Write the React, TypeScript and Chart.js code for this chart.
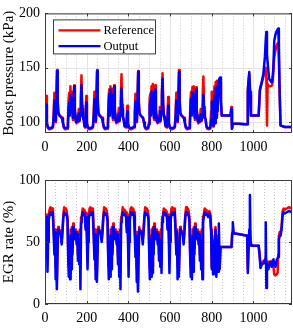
import React, { useEffect, useRef } from "react";
import { Chart, registerables } from "chart.js";

Chart.register(...registerables);

// ---------- Data ----------
const boostTime = [
  0, 3, 6, 9, 13, 18, 25, 32, 38, 42, 45, 48, 52, 55, 58, 61, 64, 70, 76, 82, 86, 90, 95, 100, 106, 110, 113, 116, 119, 122, 125, 128, 131, 134, 137, 140, 143, 147, 151, 155, 158, 162, 165, 169, 172, 175, 178, 182, 186, 189,
  192, 195, 198, 201, 205, 210, 217, 224, 230, 234, 237, 240, 244, 247, 250, 253, 256, 262, 268, 274, 278, 282, 287, 292, 298, 302, 305, 308, 311, 314, 317, 320, 323, 326, 329, 332, 335, 339, 343, 347, 350, 354, 357, 361, 364, 367, 370, 374, 378, 381,
  389, 392, 395, 398, 402, 407, 414, 421, 427, 431, 434, 437, 441, 444, 447, 450, 453, 459, 465, 471, 475, 479, 484, 489, 495, 499, 502, 505, 508, 511, 514, 517, 520, 523, 526, 529, 532, 536, 540, 544, 547, 551, 554, 558, 561, 564, 567, 571, 575, 578,
  585, 588, 591, 594, 598, 603, 610, 617, 623, 627, 630, 633, 637, 640, 643, 646, 649, 655, 661, 667, 671, 675, 680, 685, 691, 695, 698, 701, 704, 707, 710, 713, 716, 719, 722, 725, 728, 732, 736, 740, 743, 747, 750, 754, 757, 760, 763, 767, 771, 774,
  778, 783, 788, 793, 797, 800, 803, 806, 810, 813, 816, 819, 822, 825, 828, 832, 836, 840, 844, 848, 870, 890, 894, 897, 901, 930, 960, 970, 973, 977, 980, 984, 988, 1000, 1025, 1031, 1040, 1048, 1055, 1059, 1062, 1065, 1068, 1075, 1085, 1090, 1095, 1100, 1105, 1110, 1115, 1119, 1122, 1125, 1130, 1150, 1185,
];
const boostRef = [
  97, 108, 124, 100, 95, 93.5, 93.5, 94, 95, 110, 127, 112, 100, 125, 148, 120, 108, 106, 105, 104, 99, 95, 93.5, 93.5, 94, 100, 120, 127, 108, 133, 118, 128, 110, 102, 120, 134, 112, 101, 99, 106, 100, 112, 101, 110, 125, 143, 115, 105, 102, 96,
  95, 108, 124, 100, 95, 93.5, 93.5, 94, 95, 110, 128, 112, 100, 126, 148, 121, 108, 106, 105, 104, 99, 95, 93.5, 93.5, 94, 100, 121, 130, 108, 133, 118, 131, 110, 102, 121, 134, 112, 101, 99, 106, 100, 113, 101, 110, 126, 144, 116, 105, 102, 96,
  95, 104, 115, 99, 95, 93.5, 93.5, 94, 95, 110, 126, 112, 100, 124, 147, 120, 108, 106, 105, 104, 99, 95, 93.5, 93.5, 94, 100, 122, 126, 108, 133, 118, 135, 110, 102, 121, 134, 112, 101, 99, 106, 100, 114, 101, 111, 128, 145, 117, 105, 102, 96,
  95, 107, 123, 100, 95, 93.5, 93.5, 94, 95, 110, 127, 112, 100, 126, 148, 121, 108, 106, 105, 104, 99, 95, 93.5, 93.5, 94, 100, 121, 128, 108, 132, 118, 133, 110, 102, 120, 132, 112, 101, 99, 106, 100, 112, 101, 110, 124, 142, 114, 105, 102, 96,
  94, 93.5, 93.5, 94, 110, 128, 105, 96, 120, 133, 100, 137, 106, 138, 112, 130, 138, 136, 118, 106, 106, 106, 114, 94, 98.5, 98.5, 98, 98, 130, 140, 144, 125, 106, 106, 106, 129, 136, 142, 150, 150, 140, 97, 135, 133, 133, 134, 145, 160, 165, 170, 172, 173, 160, 130, 97, 95.5, 95.5,
];
const boostOut = [
  98, 104, 116, 99, 96, 94.5, 94.5, 95, 96, 106, 120, 110, 101, 120, 147, 118, 109, 106, 105, 103, 100, 96, 94.5, 94.5, 95, 98, 112, 118, 106, 125, 115, 122, 110, 104, 118, 133, 112, 102, 100, 104, 101, 108, 101, 106, 118, 134, 112, 105, 102, 97,
  96, 105, 118, 99, 96, 94.5, 94.5, 95, 96, 106, 121, 110, 101, 121, 147, 119, 109, 106, 105, 103, 100, 96, 94.5, 94.5, 95, 98, 113, 126, 106, 130, 115, 125, 110, 104, 119, 133, 112, 102, 100, 104, 101, 108, 101, 106, 118, 131, 112, 105, 102, 97,
  96, 102, 110, 99, 96, 94.5, 94.5, 95, 96, 106, 119, 110, 101, 120, 146, 118, 109, 106, 105, 103, 100, 96, 94.5, 94.5, 95, 98, 114, 120, 106, 128, 115, 127, 110, 104, 119, 130, 112, 102, 100, 104, 101, 110, 101, 108, 124, 140, 114, 105, 102, 97,
  96, 104, 115, 99, 96, 94.5, 94.5, 95, 96, 106, 120, 110, 101, 121, 146, 119, 109, 106, 105, 103, 100, 96, 94.5, 94.5, 95, 98, 113, 122, 106, 127, 115, 125, 110, 104, 118, 130, 112, 102, 100, 104, 101, 107, 101, 104, 115, 125, 110, 105, 102, 97,
  95, 94.5, 94.5, 95, 102, 119, 101, 97, 111, 124, 99, 131, 104, 133, 110, 136, 140, 141, 120, 106, 106, 106, 112, 94, 98.5, 98.5, 98, 98, 128, 138, 146, 128, 106, 106, 106, 130, 137, 145, 160, 175, 183, 162, 155, 140, 137, 137, 148, 175, 180, 183, 185, 186, 170, 135, 97, 95.5, 95.5,
];

const egrTime = [
  0, 3, 6, 9, 12, 15, 18, 22, 26, 30, 34, 38, 42, 45, 48, 51, 54, 57, 60, 63, 67, 72, 76, 80, 84, 88, 92, 96, 100, 104, 108, 111, 114, 117, 120, 123, 126, 129, 132, 135, 138, 141, 145, 148, 152, 155, 158, 161, 164, 167, 170, 173, 177, 181, 185, 189,
  192, 195, 198, 201, 204, 207, 210, 214, 218, 222, 226, 230, 234, 237, 240, 243, 246, 249, 252, 255, 259, 264, 268, 272, 276, 280, 284, 288, 292, 296, 300, 303, 306, 309, 312, 315, 318, 321, 324, 327, 330, 333, 337, 340, 344, 347, 350, 353, 356, 359, 362, 365, 369, 373, 377, 381,
  389, 392, 395, 398, 401, 404, 407, 411, 415, 419, 423, 427, 431, 434, 437, 440, 443, 446, 449, 452, 456, 461, 465, 469, 473, 477, 481, 485, 489, 493, 497, 500, 503, 506, 509, 512, 515, 518, 521, 524, 527, 530, 534, 537, 541, 544, 547, 550, 553, 556, 559, 562, 566, 570, 574, 578,
  585, 588, 591, 594, 597, 600, 603, 607, 611, 615, 619, 623, 627, 630, 633, 636, 639, 642, 645, 648, 652, 657, 661, 665, 669, 673, 677, 681, 685, 689, 693, 696, 699, 702, 705, 708, 711, 714, 717, 720, 723, 726, 730, 733, 737, 740, 743, 746, 749, 752, 755, 758, 762, 766, 770, 774,
  778, 783, 788, 793, 797, 800, 803, 806, 810, 814, 818, 822, 826, 830, 834, 838, 842, 846, 870, 895, 898, 901, 905, 940, 970, 973, 976, 980, 983, 986, 990, 1000, 1025, 1030, 1034, 1040, 1050, 1056, 1059, 1062, 1065, 1068, 1072, 1080, 1088, 1092, 1096, 1100, 1106, 1112, 1116, 1119, 1122, 1126, 1130, 1135, 1140, 1145, 1150, 1160, 1170, 1185,
];
const egrRef = [
  60, 66, 72, 62, 40, 60, 72, 76, 78, 75, 77, 74, 60, 45, 60, 30, 40, 20, 45, 62, 58, 59, 57, 50, 60, 72, 78, 76, 77, 75, 70, 45, 30, 55, 25, 60, 35, 62, 45, 65, 55, 60, 58, 60, 50, 58, 40, 55, 38, 60, 30, 70, 72, 77, 75, 76,
  74, 62, 73, 60, 35, 58, 72, 77, 78, 76, 77, 74, 58, 42, 60, 28, 42, 26, 45, 62, 58, 59, 57, 52, 60, 72, 78, 76, 77, 75, 70, 42, 30, 55, 28, 60, 35, 62, 45, 65, 55, 60, 58, 60, 50, 58, 38, 55, 30, 60, 25, 70, 72, 78, 75, 76,
  74, 62, 72, 60, 38, 60, 72, 77, 78, 76, 77, 74, 60, 45, 58, 28, 38, 18, 42, 62, 58, 59, 57, 52, 60, 72, 78, 76, 77, 75, 70, 45, 28, 55, 25, 60, 30, 62, 45, 65, 55, 60, 58, 60, 50, 58, 40, 55, 38, 60, 32, 70, 72, 77, 75, 76,
  74, 62, 72, 60, 40, 60, 72, 77, 78, 76, 77, 74, 60, 45, 60, 30, 40, 26, 45, 62, 58, 59, 57, 50, 60, 72, 78, 76, 77, 75, 70, 45, 30, 55, 25, 60, 32, 62, 45, 65, 55, 60, 58, 60, 50, 58, 40, 55, 35, 60, 28, 70, 72, 77, 75, 76,
  74, 72, 75, 73, 60, 30, 55, 28, 50, 35, 62, 25, 55, 30, 48, 30, 46, 46, 46, 46, 57, 60, 57, 56, 55, 28, 50, 56, 60, 52, 47, 47, 47, 40, 30, 33, 35, 34, 38, 30, 34, 34, 34, 34, 34, 34, 30, 24, 23, 24, 25, 40, 55, 58, 58, 62, 75, 77, 76, 77, 78, 77,
];
const egrOut = [
  70, 66, 70, 55, 26, 50, 68, 72, 74, 72, 74, 71, 55, 40, 58, 20, 30, 12, 40, 60, 57, 58, 56, 48, 58, 70, 74, 72, 73, 72, 67, 40, 22, 50, 20, 55, 28, 60, 40, 62, 52, 58, 56, 58, 48, 56, 35, 52, 32, 50, 12, 66, 70, 74, 72, 73,
  70, 60, 70, 52, 28, 50, 68, 73, 74, 72, 74, 71, 52, 36, 56, 20, 32, 18, 40, 60, 57, 58, 56, 50, 58, 70, 74, 72, 73, 72, 67, 38, 20, 50, 22, 55, 28, 60, 40, 62, 52, 58, 56, 58, 48, 56, 32, 52, 22, 50, 12, 66, 70, 74, 72, 73,
  70, 58, 70, 52, 22, 50, 68, 73, 74, 72, 74, 71, 55, 38, 55, 18, 28, 10, 38, 60, 57, 58, 56, 48, 58, 70, 74, 72, 73, 72, 67, 40, 20, 50, 22, 55, 25, 60, 40, 62, 52, 58, 56, 58, 48, 56, 35, 52, 30, 50, 25, 66, 70, 74, 72, 73,
  70, 60, 70, 52, 25, 50, 68, 73, 74, 72, 74, 71, 55, 40, 58, 20, 30, 22, 40, 60, 57, 58, 56, 48, 58, 70, 74, 72, 73, 72, 67, 40, 22, 50, 20, 55, 26, 60, 40, 62, 52, 58, 56, 58, 48, 56, 35, 52, 28, 50, 20, 66, 70, 74, 72, 73,
  72, 70, 73, 71, 58, 28, 52, 24, 48, 30, 60, 22, 52, 26, 65, 28, 46, 46, 46, 46, 57, 66, 57, 56, 55, 25, 40, 60, 88, 50, 47, 47, 47, 38, 29, 32, 33, 36, 66, 13, 30, 32, 28, 34, 30, 35, 36, 32, 30, 36, 37, 38, 52, 55, 55, 60, 72, 74, 73, 74, 75, 74,
];

const xTickValues = [0, 200, 400, 600, 800, 1000];
const xMinorGrid = [50, 100, 150, 250, 300, 350, 450, 500, 550, 650, 700, 750, 850, 900, 950, 1050, 1100, 1150];
const boostTicks = [100, 150, 200];
const egrTicks = [0, 50, 100];
const seriesLabels = ["Reference", "Output"];
const seriesColors = ["#ff0000", "#0000ff"];

const FONT = '"Liberation Serif", "Times New Roman", Times, serif';

const frameGridPlugin = {
  id: "frameGrid",
  beforeDatasetsDraw(chart: any, _args: any, opts: any) {
    const { ctx, chartArea: a, scales } = chart;
    const xs = scales.x;
    const ys = scales.y;
    ctx.save();
    ctx.lineWidth = 1;
    ctx.strokeStyle = "#c9c9c9";
    ctx.setLineDash([1, 2]);
    for (const v of xMinorGrid) {
      const px = Math.round(xs.getPixelForValue(v)) + 0.5;
      ctx.beginPath();
      ctx.moveTo(px, a.top);
      ctx.lineTo(px, a.bottom);
      ctx.stroke();
    }
    ctx.setLineDash([]);
    ctx.strokeStyle = "#e4e4e4";
    for (const v of xTickValues) {
      const px = Math.round(xs.getPixelForValue(v)) + 0.5;
      ctx.beginPath();
      ctx.moveTo(px, a.top);
      ctx.lineTo(px, a.bottom);
      ctx.stroke();
    }
    for (const v of opts.yTicks) {
      const py = Math.round(ys.getPixelForValue(v)) + 0.5;
      ctx.beginPath();
      ctx.moveTo(a.left, py);
      ctx.lineTo(a.right, py);
      ctx.stroke();
    }
    ctx.restore();
  },
  afterDatasetsDraw(chart: any, _args: any, opts: any) {
    const { ctx, chartArea: a, scales } = chart;
    const xs = scales.x;
    const ys = scales.y;
    ctx.save();
    ctx.strokeStyle = "#3a3a3a";
    ctx.lineWidth = 1;
    ctx.strokeRect(a.left + 0.5, a.top + 0.5, a.right - a.left - 1, a.bottom - a.top - 1);
    const tl = 3;
    ctx.beginPath();
    for (const v of xTickValues) {
      const px = Math.round(xs.getPixelForValue(v)) + 0.5;
      ctx.moveTo(px, a.bottom);
      ctx.lineTo(px, a.bottom - tl);
      ctx.moveTo(px, a.top);
      ctx.lineTo(px, a.top + tl);
    }
    for (const v of opts.yTicks) {
      const py = Math.round(ys.getPixelForValue(v)) + 0.5;
      ctx.moveTo(a.left, py);
      ctx.lineTo(a.left + tl, py);
      ctx.moveTo(a.right, py);
      ctx.lineTo(a.right - tl, py);
    }
    ctx.stroke();

    if (opts.legend) {
      const bx = a.left + 8.5;
      const by = a.top + 6.5;
      const bw = 102;
      const bh = 34;
      ctx.fillStyle = "#ffffff";
      ctx.fillRect(bx, by, bw, bh);
      ctx.strokeStyle = "#3a3a3a";
      ctx.strokeRect(bx, by, bw, bh);
      ctx.font = `12.5px ${FONT}`;
      ctx.textBaseline = "middle";
      ctx.textAlign = "left";
      seriesLabels.forEach((lab, i) => {
        const ly = by + 10.5 + i * 15.7;
        ctx.strokeStyle = seriesColors[i];
        ctx.lineWidth = 2.4;
        ctx.beginPath();
        ctx.moveTo(bx + 5, ly);
        ctx.lineTo(bx + 47, ly);
        ctx.stroke();
        ctx.fillStyle = "#000000";
        ctx.fillText(lab, bx + 50, ly + 0.5);
      });
    }
    ctx.restore();
  },
};

function makeChart(
  canvas: HTMLCanvasElement,
  time: number[],
  refVals: number[],
  outVals: number[],
  yMin: number,
  yMax: number,
  yTicks: number[],
  yTitle: string,
  padTop: number,
  xHeight: number,
  legend: boolean
) {
  const mk = (vals: number[]) => time.map((t, i) => ({ x: t, y: vals[i] }));
  return new Chart(canvas, {
    type: "line",
    data: {
      datasets: [
        {
          label: seriesLabels[0],
          data: mk(refVals),
          borderColor: seriesColors[0],
          borderWidth: 2.5,
          pointRadius: 0,
          tension: 0,
          borderJoinStyle: "round",
          fill: false,
          order: 2,
        },
        {
          label: seriesLabels[1],
          data: mk(outVals),
          borderColor: seriesColors[1],
          borderWidth: 2.5,
          pointRadius: 0,
          tension: 0,
          borderJoinStyle: "round",
          fill: false,
          order: 1,
        },
      ],
    },
    options: {
      animation: false,
      responsive: false,
      maintainAspectRatio: false,
      devicePixelRatio: 1,
      events: [],
      layout: { padding: { top: padTop, right: 1, left: 0, bottom: 0 } },
      plugins: {
        legend: { display: false },
        tooltip: { enabled: false },
        frameGrid: { yTicks, legend },
      } as any,
      scales: {
        x: {
          type: "linear",
          min: 0,
          max: 1185,
          grid: { display: false, drawTicks: false },
          border: { display: false },
          afterBuildTicks: (scale: any) => {
            scale.ticks = xTickValues.map((v) => ({ value: v }));
          },
          afterFit: (scale: any) => {
            scale.height = xHeight;
          },
          ticks: {
            autoSkip: false,
            maxRotation: 0,
            padding: 6,
            color: "#000",
            font: { family: FONT, size: 14 },
            callback: (v: any) => String(v),
          },
        },
        y: {
          type: "linear",
          min: yMin,
          max: yMax,
          grid: { display: false, drawTicks: false },
          border: { display: false },
          afterBuildTicks: (scale: any) => {
            scale.ticks = yTicks.map((v) => ({ value: v }));
          },
          afterFit: (scale: any) => {
            scale.width = 45;
          },
          ticks: {
            autoSkip: false,
            padding: 5,
            color: "#000",
            font: { family: FONT, size: 14 },
            callback: (v: any) => String(v),
          },
          title: {
            display: true,
            text: yTitle,
            color: "#000",
            font: { family: FONT, size: 15 },
            padding: { top: 0, bottom: 0 },
          },
        },
      },
    },
    plugins: [frameGridPlugin as any],
  });
}

export default function App() {
  const topRef = useRef<HTMLCanvasElement>(null);
  const botRef = useRef<HTMLCanvasElement>(null);

  useEffect(() => {
    const c1 = makeChart(topRef.current!, boostTime, boostRef, boostOut, 90, 200, boostTicks, "Boost pressure (kPa)", 8, 32, true);
    const c2 = makeChart(botRef.current!, egrTime, egrRef, egrOut, 0, 100, egrTicks, "EGR rate (%)", 15, 27, false);
    return () => {
      c1.destroy();
      c2.destroy();
    };
  }, []);

  return (
    <div style={{ position: "absolute", left: 0, top: 0, width: 293, height: 331, background: "#fff" }}>
      <canvas ref={topRef} width={293} height={165} style={{ position: "absolute", left: 0, top: 0, width: 293, height: 165 }} />
      <canvas ref={botRef} width={293} height={166} style={{ position: "absolute", left: 0, top: 165, width: 293, height: 166 }} />
    </div>
  );
}
